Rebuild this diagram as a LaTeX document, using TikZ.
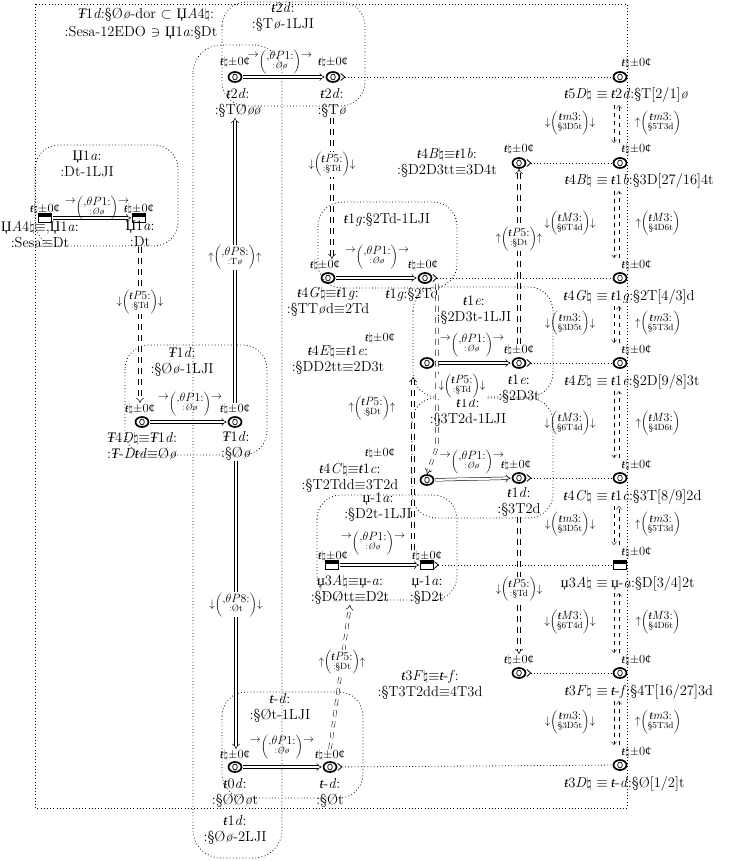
\documentclass[tikz,border=0pt]{standalone}
\usepackage{fontspec}
\newfontfamily\cyr{Liberation Serif}
\usetikzlibrary{arrows.meta,calc,shapes.geometric}
\newcommand{\tb}{{\cyr\itshape ŧ}}
\newcommand{\Tb}{{\cyr\itshape Ŧ}}
\newcommand{\nat}{\ensuremath{\natural}}
\newcommand{\Dz}{{\cyr Џ}}
\newcommand{\dz}{{\cyr џ}}
\newcommand{\acc}{\tb\nat$\pm$0{\cyr ¢}}
\newcommand{\plab}[2]{$\left(\begin{tabular}{@{}c@{}}{\fontsize{12}{13}\selectfont #1}\\[-3pt]{\fontsize{9}{10}\selectfont #2}\end{tabular}\right)$}
\newcommand{\vd}[2]{$\downarrow$\plab{#1}{#2}$\downarrow$}
\newcommand{\vu}[2]{$\uparrow$\plab{#1}{#2}$\uparrow$}
\newcommand{\vuo}[2]{$\uparrow$\plab{#1}{#2}}
\newcommand{\hr}[2]{\raisebox{7pt}{$\to$}\plab{#1}{#2}\raisebox{7pt}{$\to$}}
\newcommand{\tP}{,$\theta P$1:}
\newcommand{\oo}{:\textit{Øø}}
\begin{document}
\begin{tikzpicture}[x=1pt,y=-1pt,
 tx/.style={inner sep=0pt,font=\fontsize{14.5}{16}\selectfont,align=center},
 ac/.style={inner sep=0.5pt,font=\fontsize{12.5}{14}\selectfont},
 lb/.style={inner sep=0.5pt,font=\fontsize{11}{12}\selectfont},
 cn/.style={draw,ellipse,line width=1.7pt,minimum width=13pt,minimum height=10pt,inner sep=0pt,
   path picture={\draw[line width=0.7pt] (path picture bounding box.center) ellipse (2.3pt and 3pt);}},
 sq/.style={draw,rectangle,line width=0.8pt,minimum width=13pt,minimum height=9pt,inner sep=0pt,
   path picture={\fill (path picture bounding box.north west) rectangle ([yshift=-3pt]path picture bounding box.north east);}},
 box/.style={dash pattern=on 0.8pt off 2.4pt,line width=0.8pt,rounded corners=24pt},
 hp/.style={double,double distance=2.2pt,line width=0.5pt,-{Implies},shorten >=1pt,shorten <=1pt},
 vs/.style={double,double distance=2.2pt,line width=0.5pt,-{Implies}},
 vp/.style={double,double distance=2.2pt,line width=0.5pt,dash pattern=on 6pt off 5pt,-{Implies}},
 dl/.style={dash pattern=on 0.8pt off 2.4pt,line width=0.8pt,{Straight Barb[reversed,length=4pt,width=7pt]}-},
 rc/.style={dash pattern=on 4pt off 4pt,line width=0.4pt,-{Straight Barb[length=3pt,width=5pt]}},
]
\useasboundingbox (0,0) rectangle (731,861);
\draw[box,rounded corners=0pt] (35,4) rectangle (627,808);
% title
\node[tx] (ttl1) at (146,15) {\Tb1\textit{d}:§Ø\textit{ø}-dor $\subset$ \Dz\textit{A}4\nat:};
\node[tx] (ttl2) at (141,33) {:Sesa-12EDO $\ni$ \Dz1\textit{a}:§Dt};
% 2LJI cluster
\draw[box,rounded corners=28pt] (193,45) rectangle (282,858);
\node[tx] (c2) at (235,830) {\tb1\textit{d}:\\:§Ø\textit{ø}-2LJI};
% cluster t2d
\draw[box] (222,2) rectangle (365,106);
\node[tx] (d2c) at (283,17) {\tb2\textit{d}:\\:§T\textit{ø}-1LJI};
\node[cn] (d2L) at (235,77) {};
\node[ac] (d2La) at (235,63) {\acc};
\node[tx] (d2Lb) at (238,103) {\tb2\textit{d}:\\:§TØ\textit{øø}};
\node[cn] (d2R) at (333,77) {};
\node[ac] (d2Ra) at (333,63) {\acc};
\node[tx] (d2Rb) at (332,103) {\tb2\textit{d}:\\:§T\textit{ø}};
\draw[hp] (d2L) -- (d2R);
\node[lb] (d2e) at (280,62) {\hr{\tP}{\oo}};
% cluster Dz1a
\draw[box] (35,145) rectangle (178,246);
\node[tx] (acl) at (87,164) {\Dz1\textit{a}:\\:Dt-1LJI};
\node[sq] (aL) at (45,218) {};
\node[ac] (aLa) at (45,209) {\acc};
\node[tx] (aLb) at (40,234) {\Dz\textit{A}4\nat$\equiv$,\Dz1\textit{a}:\\:Sesa$\equiv$Dt};
\node[sq] (aR) at (139,218) {};
\node[ac] (aRa) at (139,209) {\acc};
\node[tx] (aRb) at (140,234) {\Dz1\textit{a}:\\:Dt};
\draw[hp] (aL) -- (aR);
\node[lb] (ae) at (97,208) {\hr{\tP}{\oo}};
% cluster T1d
\draw[box] (125,345) rectangle (267,455);
\node[tx] (Dc) at (182,362) {\Tb1\textit{d}:\\:§Ø\textit{ø}-1LJI};
\node[cn] (DL) at (142,422) {};
\node[ac] (DLa) at (140,409) {\acc};
\node[tx] (DLb) at (142,446) {\Tb4\textit{D}\nat$\equiv$\Tb1\textit{d}:\\:\Tb-\textit{D}\tb\textit{d}$\equiv$Ø\textit{ø}};
\node[cn] (DR) at (235,422) {};
\node[ac] (DRa) at (235,409) {\acc};
\node[tx] (DRb) at (236,446) {\Tb1\textit{d}:\\:§Ø\textit{ø}};
\draw[hp] (DL) -- (DR);
\node[lb] (De) at (190,404) {\hr{\tP}{\oo}};
% cluster t1g
\draw[box] (318,202) rectangle (457,288);
\node[tx] (gc) at (387,220) {\tb1\textit{g}:§2Td-1LJI};
\node[cn] (gL) at (328,278) {};
\node[ac] (gLa) at (325,265) {\acc};
\node[tx] (gLb) at (328,302) {\tb4\textit{G}\nat$\equiv$\tb1\textit{g}:\\:§TT\textit{ø}d$\equiv$2Td};
\node[cn] (gR) at (425,278) {};
\node[ac] (gRa) at (423,265) {\acc};
\node[tx] (gRb) at (412,295) {\tb1\textit{g}:§2Td};
\draw[hp] (gL) -- (gR);
\node[lb] (ge) at (377,257) {\hr{\tP}{\oo}};
% singleton t4B
\node[cn] (bN) at (519,163) {};
\node[ac] (bNa) at (519,150) {\acc};
\node[tx] (bNl) at (447,163) {\tb4\textit{B}\nat$\equiv$\tb1\textit{b}:\\:§D2D3tt$\equiv$3D4t};
% cluster t1e
\draw[box] (413,287) rectangle (553,397);
\node[tx] (ec) at (474,310) {\tb1\textit{e}:\\:§2D3t-1LJI};
\node[cn] (eL) at (427,363) {};
\node[ac] (eLa) at (380,338) {\acc};
\node[tx] (eLb) at (338,360) {\tb4\textit{E}\nat$\equiv$\tb1\textit{e}:\\:§DD2tt$\equiv$2D3t};
\node[cn] (eR) at (519,363) {};
\node[ac] (eRa) at (519,350) {\acc};
\node[tx] (eRb) at (519,389) {\tb1\textit{e}:\\:§2D3t};
\draw[hp] (eL) -- (eR);
\node[lb] (ee) at (472,345) {\hr{\tP}{\oo}};
% cluster t1d (C)
\draw[box] (412,398) rectangle (553,518);
\node[tx] (cc) at (468,412) {\tb1\textit{d}:\\:§3T2d-1LJI};
\node[cn] (cL) at (427,480) {};
\node[ac] (cLa) at (380,453) {\acc};
\node[tx] (cLb) at (350,478) {\tb4\textit{C}\nat$\equiv$\tb1\textit{c}:\\:§T2Tdd$\equiv$3T2d};
\node[cn] (cR) at (519,478) {};
\node[ac] (cRa) at (516,465) {\acc};
\node[tx] (cRb) at (519,502) {\tb1\textit{d}:\\:§3T2d};
\draw[hp] (cL) -- (cR);
\node[lb] (ce) at (472,462) {\hr{\tP}{\oo}};
% cluster u-1a
\draw[box] (317,495) rectangle (457,600);
\node[tx] (uc) at (378,507) {\dz-1\textit{a}:\\:§D2t-1LJI};
\node[sq] (uL) at (332,565) {};
\node[ac] (uLa) at (333,556) {\acc};
\node[tx] (uLb) at (350,590) {\dz3\textit{A}\nat$\equiv$\dz-\textit{a}:\\:§DØtt$\equiv$D2t};
\node[sq] (uR) at (427,565) {};
\node[ac] (uRa) at (427,556) {\acc};
\node[tx] (uRb) at (427,590) {\dz-1\textit{a}:\\:§D2t};
\draw[hp] (uL) -- (uR);
\node[lb] (ue) at (373,543) {\hr{\tP}{\oo}};
% singleton t-f
\node[cn] (fN) at (519,673) {};
\node[ac] (fNa) at (519,660) {\acc};
\node[tx] (fNl) at (430,685) {\tb3\textit{F}\nat$\equiv$\tb-\textit{f}:\\:§T3T2dd$\equiv$4T3d};
% cluster t-d
\draw[box] (222,692) rectangle (363,798);
\node[tx] (d0c) at (280,708) {\tb-\textit{d}:\\:§Øt-1LJI};
\node[cn] (d0L) at (235,767) {};
\node[ac] (d0La) at (235,755) {\acc};
\node[tx] (d0Lb) at (235,793) {\tb0\textit{d}:\\:§ØØ\textit{ø}t};
\node[cn] (d0R) at (330,767) {};
\node[ac] (d0Ra) at (330,755) {\acc};
\node[tx] (d0Rb) at (330,793) {\tb-\textit{d}:\\:§Øt};
\draw[hp] (d0L) -- (d0R);
\node[lb] (d0e) at (282,747) {\hr{\tP}{\oo}};
% right column
\foreach \n/\y/\s in {1/77/cn,2/163/cn,3/278/cn,4/363/cn,5/478/cn,6/565/sq,7/673/cn,8/765/cn}{
  \node[\s] (r\n) at (620,\y) {};
  \node[ac,anchor=west] (r\n a) at (621,\y-13) {\acc};
}
\foreach \n/\a/\b in {1/{\tb5\textit{D}\nat}/{\tb2\textit{d}:§T[2/1]\textit{ø}},
 2/{\tb4\textit{B}\nat}/{\tb1\textit{b}:§3D[27/16]4t},
 3/{\tb4\textit{G}\nat}/{\tb1\textit{g}:§2T[4/3]d},
 4/{\tb4\textit{E}\nat}/{\tb1\textit{e}:§2D[9/8]3t},
 5/{\tb4\textit{C}\nat}/{\tb1\textit{c}:§3T[8/9]2d},
 6/{\dz3\textit{A}\nat}/{\dz-\textit{a}:§D[3/4]2t},
 7/{\tb3\textit{F}\nat}/{\tb-\textit{f}:§4T[16/27]3d},
 8/{\tb3\textit{D}\nat}/{\tb-\textit{d}:§Ø[1/2]t}}{
  \node[tx,anchor=base east] (r\n l) at ($(r\n)+(-12,22)$) {\a{} $\equiv$};
  \node[tx,anchor=base west] (r\n r) at ($(r\n)+(-9,22)$) {\b};
}
\foreach \i/\j/\q/\p/\u in {1/2/m/3D5t/5T3d,2/3/M/6T4d/4D6t,3/4/m/3D5t/5T3d,4/5/M/6T4d/4D6t,5/6/m/3D5t/5T3d,6/7/M/6T4d/4D6t,7/8/m/3D5t/5T3d}{
  \draw[rc] ($(r\i)+(-6,28)$) -- ($(r\j)+(-6,-20)$);
  \draw[rc] ($(r\j)+(-1,-20)$) -- ($(r\i)+(-1,28)$);
  \node[lb] (ld\i) at ($(r\i)!0.5!(r\j)+(-50,3)$) {\vd{\tb\textit{\q}3:}{§\p}};
  \node[lb] (lu\i) at ($(r\i)!0.5!(r\j)+(38,3)$) {\vuo{\tb\textit{\q}3:}{§\u}};
}
% dotted to right column
\draw[dl] (d2R) -- (r1);
\draw[dl] (bN) -- (r2);
\draw[dl] (gR) -- (r3);
\draw[dl] (eR) -- (r4);
\draw[dl] (cR) -- (r5);
\draw[dl] (uR) -- (r6);
\draw[dl] (fN) -- (r7);
\draw[dl] (d0R) -- (r8);
% vertical theta P8
\draw[vs] (DRa.north) -- node[lb,fill=white,pos=0.51] {\vu{,$\theta P$8:}{:T\textit{ø}}} (DRa.north |- d2Lb.south);
\draw[vs] (DRb.south) -- node[lb,fill=white,pos=0.5] {\vd{,$\theta P$8:}{:Øt}} (DRb.south |- d0La.north);
% P5 edges
\draw[vp] (d2Rb.south) -- node[lb,fill=white,pos=0.33] {\vd{\tb\textit{P}5:}{:§Td}} (d2Rb.south |- gLa.north);
\draw[vp] (aRb.south) -- node[lb,fill=white,pos=0.35] {\vd{\tb\textit{P}5:}{:§Td}} (aRb.south |- DLa.north);
\draw[vp] (eRa.north) -- node[lb,fill=white,pos=0.6] {\vu{\tb\textit{P}5:}{:§Dt}} (bN.south);
\draw[vp] ($(uRa.north)+(-14,0)$) -- ($(eL.south)+(-14,8)$);
\node[lb] (lue) at (372,408) {\vu{\tb\textit{P}5:}{:§Dt}};
\draw[vp] ($(gR.south)+(12,0)$) -- ($(cLa.north -| cL)+(10,0)$) -- (cL.north);
\node[lb,fill=white] (lgc) at (462,386) {\vd{\tb\textit{P}5:}{:§Td}};
\draw[vp] (cRb.south) -- node[lb,fill=white,pos=0.53] {\vd{\tb\textit{P}5:}{:§Td}} (fNa.north);
\draw[vp] (d0Ra.north) -- node[lb,fill=white,pos=0.6] {\vu{\tb\textit{P}5:}{:§Dt}} (uLb.south);
\end{tikzpicture}
\end{document}
